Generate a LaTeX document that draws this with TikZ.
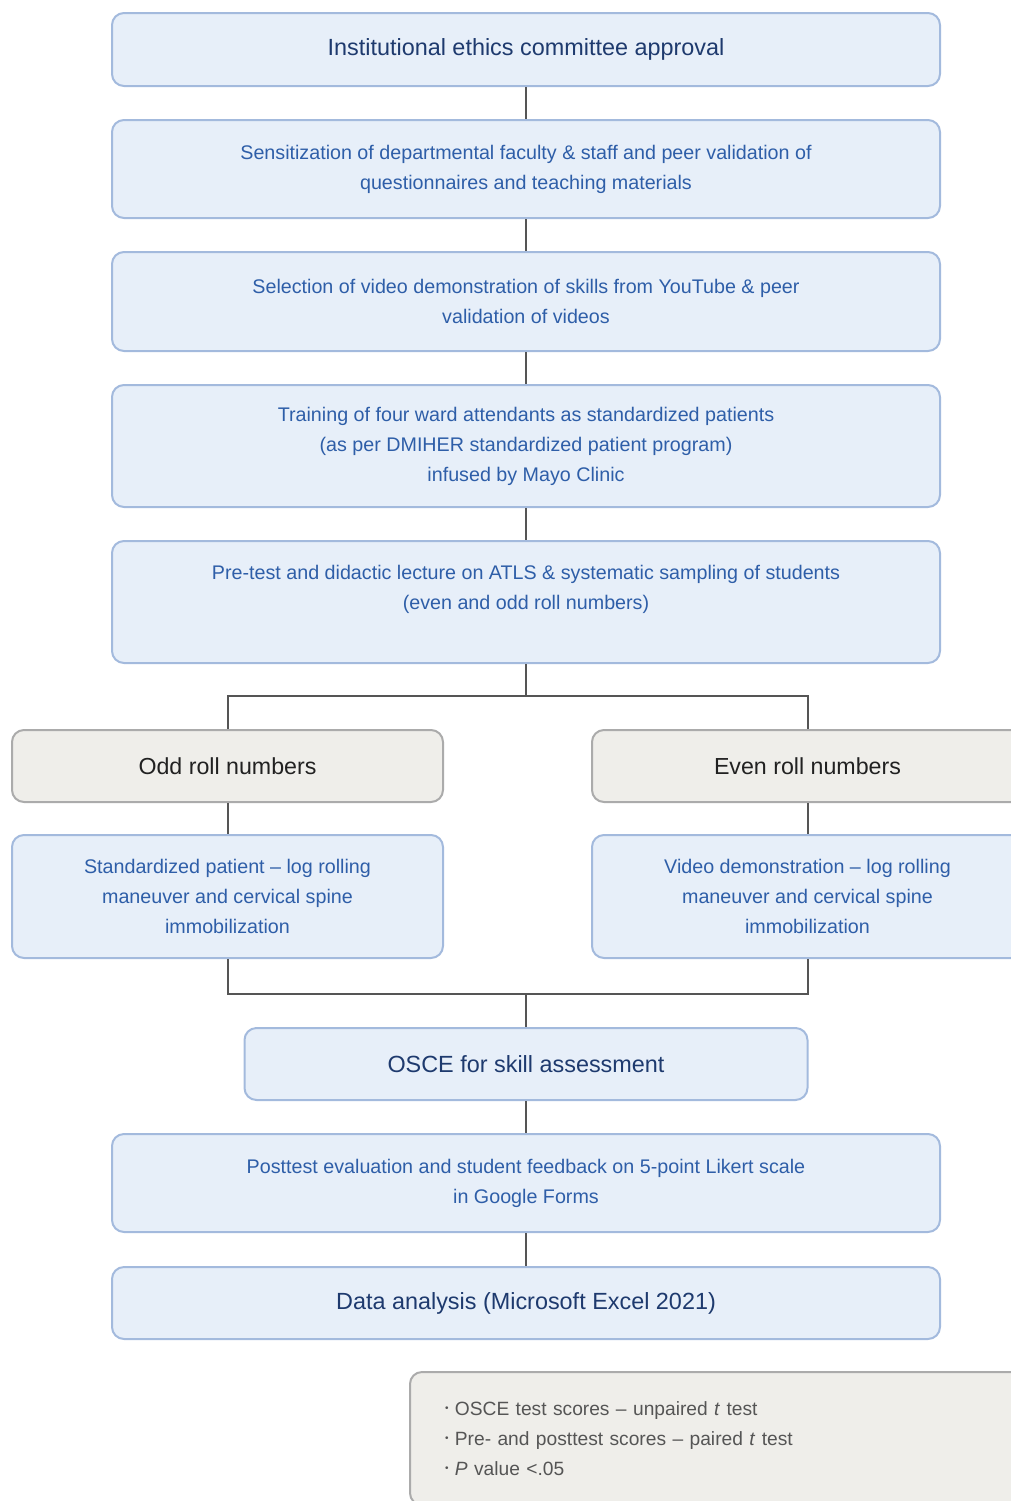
\documentclass[tikz,border=0pt]{standalone}
\usepackage{fontspec}
\setmainfont{Liberation Sans}
\definecolor{boxblue}{HTML}{E7EFF9}
\definecolor{edgeblue}{HTML}{A3BADD}
\definecolor{textblue}{HTML}{2E5EA8}
\definecolor{navy}{HTML}{1E3A6E}
\definecolor{boxgray}{HTML}{EFEEEA}
\definecolor{edgegray}{HTML}{ABABAB}
\definecolor{linkgray}{HTML}{555555}
\newcommand{\dotitem}{\raisebox{0.35ex}{\tiny\textbullet}\ }

\begin{document}
\begin{tikzpicture}[x = 0.5pt, y = -0.5pt, line width = 1pt,
                    stage/.style = {rectangle, rounded corners = 6pt, draw = edgeblue, fill = boxblue,
                                    text = textblue, align = center, inner sep = 0pt,
                                    font = \fontsize{9.85}{15}\selectfont},
                    heading/.style = {stage, text = navy, font = \fontsize{11.7}{14}\selectfont},
                    group/.style = {stage, draw = edgegray, fill = boxgray, text = black!87,
                                    font = \fontsize{11.6}{14}\selectfont},
                    note/.style = {group, text = linkgray, align = left,
                                   font = \fontsize{9.6}{15}\selectfont},
                    link/.style = {draw = linkgray, line width = 1pt}]
  \useasboundingbox (0,0) rectangle (1011,1501);

  \node [heading, minimum width = 414pt, minimum height = 36.5pt] (S1) at (526,49.5)
        {Institutional ethics committee approval};
  \node [stage, minimum width = 414pt, minimum height = 49pt] (S2) at (526,169)
        {Sensitization of departmental faculty \& staff and peer validation of\\
         questionnaires and teaching materials};
  \node [stage, minimum width = 414pt, minimum height = 49.5pt] (S3) at (526,301.5)
        {Selection of video demonstration of skills from YouTube \& peer\\
         validation of videos};
  \node [stage, minimum width = 414pt, minimum height = 61pt] (S4) at (526,446)
        {Training of four ward attendants as standardized patients\\
         (as per DMIHER standardized patient program)\\
         infused by Mayo Clinic};
  \node [stage, minimum width = 414pt, minimum height = 61pt] (S5) at (526,602)
        {Pre-test and didactic lecture on ATLS \& systematic sampling of students\\
         (even and odd roll numbers)\\ \mbox{}};

  \node [group, minimum width = 215.5pt, minimum height = 36pt] (G1) at (227.5,766)
        {Odd roll numbers};
  \node [group, minimum width = 215.5pt, minimum height = 36pt] (G2) at (807.5,766)
        {Even roll numbers};
  \node [stage, minimum width = 215.5pt, minimum height = 61.5pt] (A1) at (227.5,896.5)
        {Standardized patient -- log rolling\\ maneuver and cervical spine\\ immobilization};
  \node [stage, minimum width = 215.5pt, minimum height = 61.5pt] (A2) at (807.5,896.5)
        {Video demonstration -- log rolling\\ maneuver and cervical spine\\ immobilization};

  \node [heading, minimum width = 281.5pt, minimum height = 36pt] (S6) at (526,1064)
        {OSCE for skill assessment};
  \node [stage, minimum width = 414pt, minimum height = 49pt] (S7) at (526,1183)
        {Posttest evaluation and student feedback on 5-point Likert scale\\ in Google Forms};
  \node [heading, minimum width = 414pt, minimum height = 36pt] (S8) at (526,1303)
        {Data analysis (Microsoft Excel 2021)};

  \node [note, minimum width = 306.5pt, minimum height = 66.5pt, text width = 271.5pt,
         inner xsep = 17.5pt] (N1) at (716.5,1438.5)
        {\dotitem OSCE test scores -- unpaired \textit{t} test\\
         \dotitem Pre- and posttest scores -- paired \textit{t} test\\
         \dotitem \textit{P} value <.05};

  \coordinate (split) at (526,696);
  \coordinate (merge) at (526,994);

  \draw [link] (S1) -- (S2);
  \draw [link] (S2) -- (S3);
  \draw [link] (S3) -- (S4);
  \draw [link] (S4) -- (S5);
  \draw [link] (S5) -- (split);
  \draw [link] (split) -| (G1);
  \draw [link] (split) -| (G2);
  \draw [link] (G1) -- (A1);
  \draw [link] (G2) -- (A2);
  \draw [link] (A1) |- (merge);
  \draw [link] (A2) |- (merge);
  \draw [link] (merge) -- (S6);
  \draw [link] (S6) -- (S7);
  \draw [link] (S7) -- (S8);
\end{tikzpicture}
\end{document}
